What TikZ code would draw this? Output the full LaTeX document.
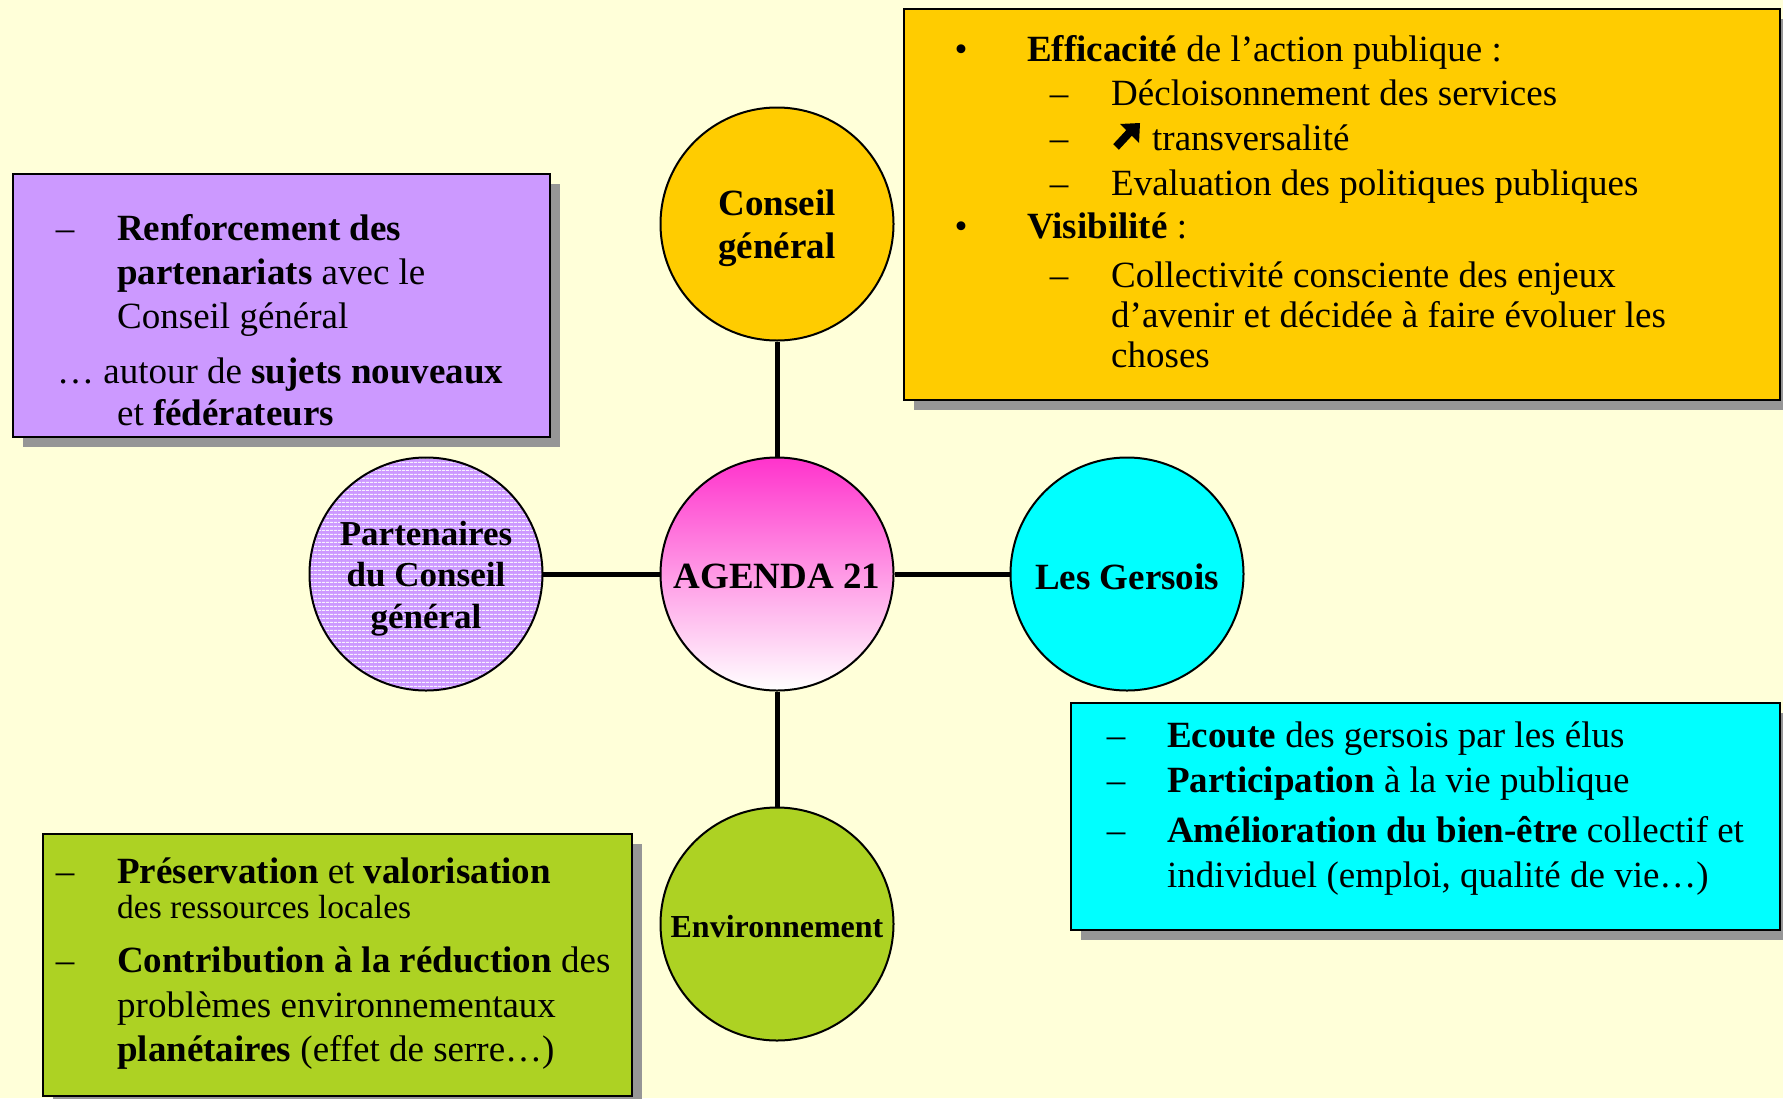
\documentclass[tikz,border=0pt]{standalone}
\usepackage{fontspec}
\setmainfont{Liberation Serif}
\usetikzlibrary{shadows,patterns.meta}
\definecolor{bg}{HTML}{FFFFD9}
\definecolor{cyel}{HTML}{FFCC00}
\definecolor{cpur}{HTML}{CC99FF}
\definecolor{ccya}{HTML}{00FFFF}
\definecolor{cgre}{HTML}{ADD223}
\definecolor{cmag}{HTML}{FF33CC}
\definecolor{shgray}{HTML}{969696}
\tikzset{
  box/.style={draw=black, line width=2.5pt, rectangle, inner sep=0pt,
    drop shadow={shadow xshift=10pt, shadow yshift=-10pt, fill=shgray, opacity=1}},
  circ/.style={draw=black, line width=2pt, circle, minimum size=233pt, inner sep=0pt},
  lbl/.style={inner sep=0pt, align=center, font=\fontsize{37}{43}\selectfont\bfseries},
  conn/.style={line width=5pt, black},
  txt/.style={anchor=base west, inner sep=0pt, font=\fontsize{37}{44}\selectfont},
  mk/.style={anchor=base, inner sep=0pt, font=\fontsize{37}{44}\selectfont},
}
\begin{document}
\begin{tikzpicture}[x=1pt,y=-1pt]
\fill[bg] (0,0) rectangle (1783,1098);
\useasboundingbox (0,0) rectangle (1783,1098);

% boxes
\node[box, fill=cyel, minimum width=876pt, minimum height=391pt] (ybox) at (1342,204.5) {};
\node[box, fill=cpur, minimum width=537pt, minimum height=263pt] (pbox) at (281.5,305.5) {};
\node[box, fill=cgre, minimum width=589pt, minimum height=262pt] (gbox) at (337.5,965) {};
\node[box, fill=ccya, minimum width=709pt, minimum height=227pt] (cbox) at (1425.5,816.5) {};

% circles
\node[circ, top color=cmag, bottom color=white] (agenda) at (777,574) {};
\node[circ, fill=cyel] (conseil) at (777,224) {};
\node[circ, fill=ccya] (gersois) at (1127,574) {};
\node[circ, fill=cgre] (envir) at (777,924) {};
\node[circ, preaction={fill=cpur}, pattern={Lines[angle=0,distance=4pt,line width=1.3pt]}, pattern color=white!85!cpur] (parten) at (426,574) {};

% circle labels
\node[lbl] (agendaL) at ([yshift=-2pt]agenda.center) {AGENDA 21};
\node[lbl] (conseilL) at ([yshift=-4.5pt]conseil.center) {Conseil\\général};
\node[lbl] (gersoisL) at ([yshift=-3pt]gersois.center) {Les Gersois};
\node[lbl, font=\fontsize{32}{38}\selectfont\bfseries] (envirL) at ([yshift=-2.5pt]envir.center) {Environnement};
\node[lbl, font=\fontsize{35}{41.5}\selectfont\bfseries] (partenL) at ([yshift=-4.5pt]parten.center) {Partenaires\\du Conseil\\général};

% connectors
\draw[conn] (agenda) -- (conseil);
\draw[conn] (agenda) -- (gersois);
\draw[conn] (agenda) -- (envir);
\draw[conn] (agenda) -- (parten);

% yellow box text
\node[mk] (yb1) at (961,61) {•};
\node[txt] (y1) at (1027,61) {\textbf{Efficacité} de l’action publique :};
\node[mk] (yd1) at (1059,105) {–};
\node[txt] (y2) at (1111,105) {Décloisonnement des services};
\node[mk] (yd2) at (1059,150) {–};
\fill[black] (1113.2,144.2) -- (1126.2,130.2) -- (1120,124) -- (1140,123) -- (1139,143) -- (1131.8,135.8) -- (1118.8,149.8) -- cycle;
\node[txt] (y3) at (1152,150) {transversalité};
\node[mk] (yd3) at (1059,195) {–};
\node[txt] (y4) at (1111,195) {Evaluation des politiques publiques};
\node[mk] (yb2) at (961,238) {•};
\node[txt] (y5) at (1027,238) {\textbf{Visibilité} :};
\node[mk] (yd4) at (1059,287) {–};
\node[txt] (y6) at (1111,287) {Collectivité consciente des enjeux};
\node[txt] (y7) at (1111,327) {d’avenir et décidée à faire évoluer les};
\node[txt] (y8) at (1111,367) {choses};

% purple box text
\node[mk] (pd1) at (65,240) {–};
\node[txt] (p1) at (117,240) {\textbf{Renforcement des}};
\node[txt] (p2) at (117,284) {\textbf{partenariats} avec le};
\node[txt] (p3) at (117,328) {Conseil général};
\node[txt] (p4) at (57,383) {… autour de \textbf{sujets nouveaux}};
\node[txt] (p5) at (117,425) {et \textbf{fédérateurs}};

% green box text
\node[mk] (gd1) at (65,883) {–};
\node[txt] (g1) at (117,883) {\textbf{Préservation} et \textbf{valorisation}};
\node[txt, font=\fontsize{33.5}{40}\selectfont] (g2) at (117,918) {des ressources locales};
\node[mk] (gd2) at (65,972) {–};
\node[txt] (g3) at (117,972) {\textbf{Contribution à la réduction} des};
\node[txt] (g4) at (117,1017) {problèmes environnementaux};
\node[txt] (g5) at (117,1061) {\textbf{planétaires} (effet de serre…)};

% cyan box text
\node[mk] (cd1) at (1116,747) {–};
\node[txt] (c1) at (1167,747) {\textbf{Ecoute} des gersois par les élus};
\node[mk] (cd2) at (1116,792) {–};
\node[txt] (c2) at (1167,792) {\textbf{Participation} à la vie publique};
\node[mk] (cd3) at (1116,842) {–};
\node[txt] (c3) at (1167,842) {\textbf{Amélioration du bien-être} collectif et};
\node[txt] (c4) at (1167,887) {individuel (emploi, qualité de vie…)};
\end{tikzpicture}
\end{document}
